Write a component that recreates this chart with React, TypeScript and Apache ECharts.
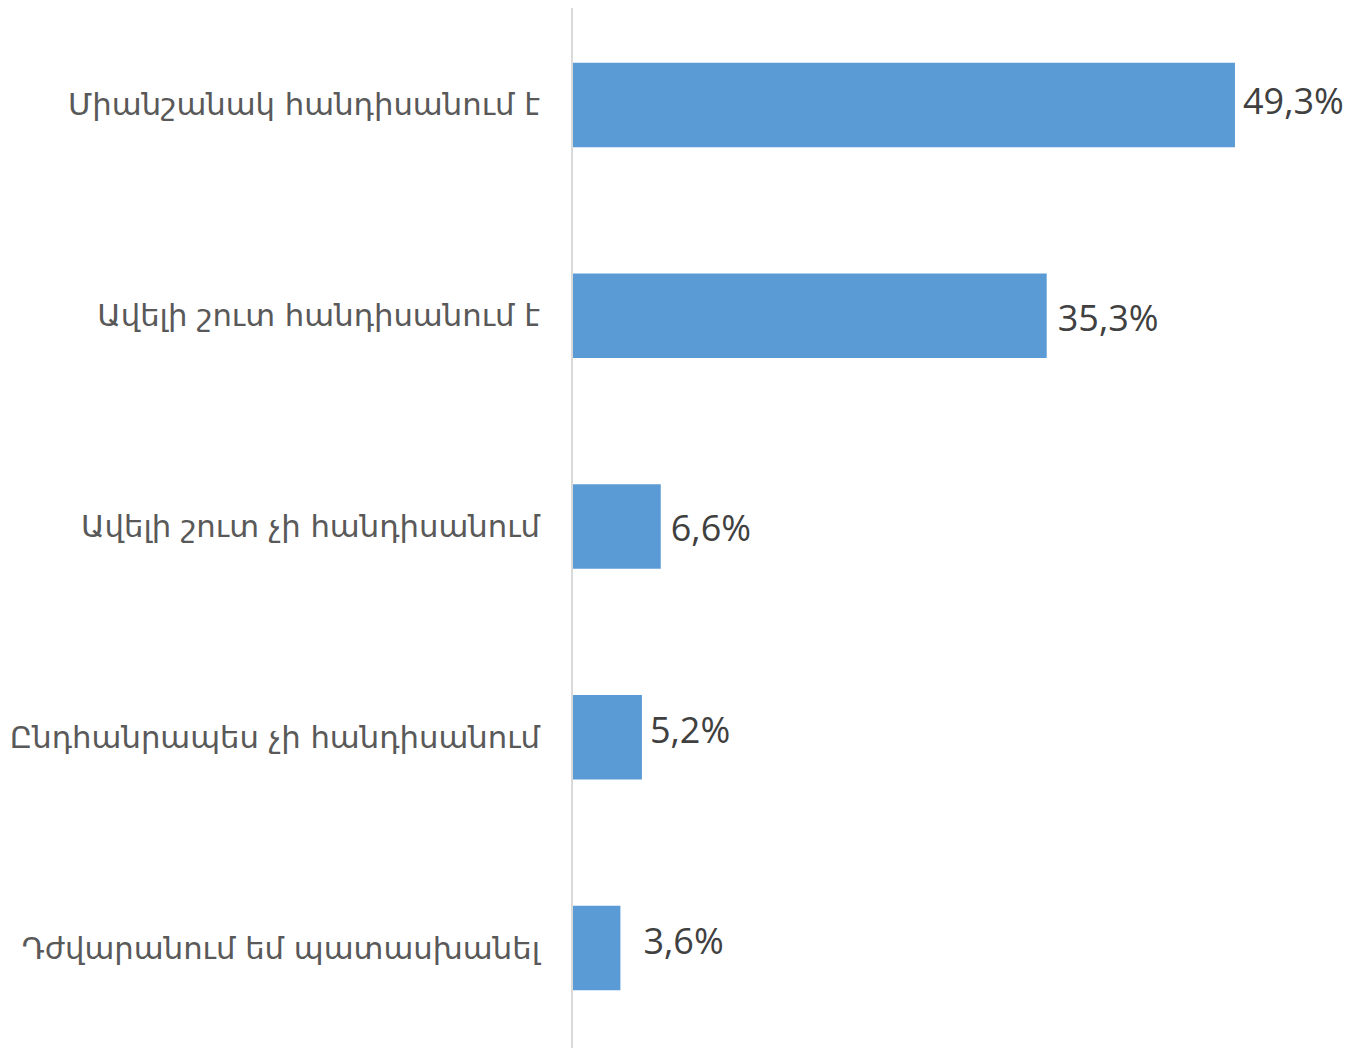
import React, { useEffect, useRef } from "react";
import * as echarts from "echarts";

const categories = [
  "Միանշանակ հանդիսանում է",
  "Ավելի շուտ հանդիսանում է",
  "Ավելի շուտ չի հանդիսանում",
  "Ընդհանրապես չի հանդիսանում",
  "Դժվարանում եմ պատասխանել",
];
const values = [49.3, 35.3, 6.6, 5.2, 3.6];
const valueLabels = ["49,3%", "35,3%", "6,6%", "5,2%", "3,6%"];
const labelNudges = [
  [0, -4],
  [3, 2],
  [2, 1],
  [0, -8],
  [15, -8],
];

export default function App() {
  const ref = useRef<HTMLDivElement>(null);
  useEffect(() => {
    if (!ref.current) return;
    const chart = echarts.init(ref.current, null, { renderer: "svg" });
    chart.setOption({
      animation: false,
      backgroundColor: "#ffffff",
      grid: {
        left: 572,
        right: 103.6,
        top: -0.4,
        bottom: -5.4,
        containLabel: false,
        outerBoundsMode: "none",
      },
      xAxis: { type: "value", min: 0, max: 50, show: false, splitLine: { show: false } },
      yAxis: {
        type: "category",
        data: categories,
        inverse: true,
        axisLine: { show: false },
        axisTick: { show: false },
        axisLabel: {
          margin: 32,
          fontSize: 30.7,
          color: "#595959",
          fontFamily: "'DejaVu Sans', sans-serif",
        },
      },
      graphic: [
        {
          type: "line",
          shape: { x1: 572, y1: 8, x2: 572, y2: 1048 },
          style: { stroke: "#d9d9d9", lineWidth: 2 },
          z: 10,
        },
      ],
      series: [
        {
          type: "bar",
          barCategoryGap: "60%",
          itemStyle: { color: "#5b9bd5" },
          data: values.map((v, i) => ({
            value: v,
            label: { offset: labelNudges[i] },
          })),
          label: {
            show: true,
            position: "right",
            distance: 8,
            fontSize: 36,
            color: "#404040",
            fontFamily: "'Open Sans', sans-serif",
            formatter: (p: any) => valueLabels[p.dataIndex],
          },
        },
      ],
    });
    return () => chart.dispose();
  }, []);
  return (
    <div
      ref={ref}
      style={{ position: "absolute", left: 0, top: 0, width: 1348, height: 1048 }}
    />
  );
}
